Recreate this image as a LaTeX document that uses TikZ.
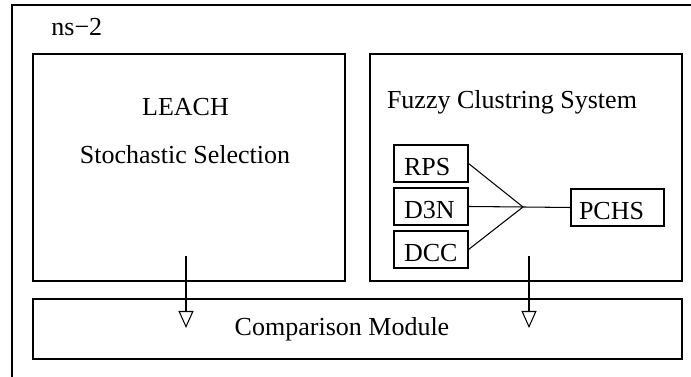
\documentclass[tikz,border=0pt]{standalone}
\usepackage{fontspec}
\setmainfont{Liberation Serif}
\usetikzlibrary{arrows.meta}
\begin{document}
\begin{tikzpicture}
    \tikzstyle{every node}=[font=\fontsize{14.8}{17}\selectfont]
    \tikzstyle{every path}=[line width=0.6pt]
    \tikzstyle{inbox}=[draw,align=left,inner xsep=0.2cm,inner ysep=0.12cm,
                       text width=1.08cm,text height=0.5cm,text depth=0pt]
    \tikzstyle{down}=[-{Triangle[open,width=0.3cm,length=0.34cm]}]
    \useasboundingbox (0,0) rectangle (13.82,7.54);
    % frames
    \draw (0.24,0)--(0.24,7.44)--(13.82,7.44);
    \draw (0.66,1.92) rectangle (6.90,6.46);
    \draw (7.40,1.92) rectangle (13.64,6.46);
    \draw (0.66,0.36) rectangle (13.64,1.56);
    % texts
    \draw node(ns)[anchor=base west]at(0.90,6.82){ns−2}
          node(leach)[anchor=base]at(3.71,5.22){LEACH}
          node(stoch)[anchor=base]at(3.70,4.26){Stochastic Selection}
          node(fuzzy)[anchor=base]at(10.24,5.36){Fuzzy Clustring System}
          node(comp)[anchor=base]at(6.84,0.82){Comparison Module};
    % fuzzy inputs
    \draw node(rps)[inbox]at(8.62,4.27){RPS}
          node(d3n)[inbox]at(8.62,3.41){D3N}
          node(dcc)[inbox]at(8.62,2.55){DCC}
          node(pchs)[inbox,inner xsep=0.16cm,text width=1.54cm]at(12.35,3.39){PCHS};
    \coordinate (join) at (10.46,3.40);
    \draw[-](rps.east)--(join);
    \draw[-](d3n.east)--(join);
    \draw[-](dcc.east)--(join);
    \draw[-](join)--(pchs.west);
    % arrows
    \coordinate (la) at (3.72,2.42); \coordinate (lb) at (3.72,0.98);
    \coordinate (ra) at (10.58,2.42); \coordinate (rb) at (10.58,0.98);
    \draw[down](la)--(lb);
    \draw[down](ra)--(rb);
\end{tikzpicture}
\end{document}
